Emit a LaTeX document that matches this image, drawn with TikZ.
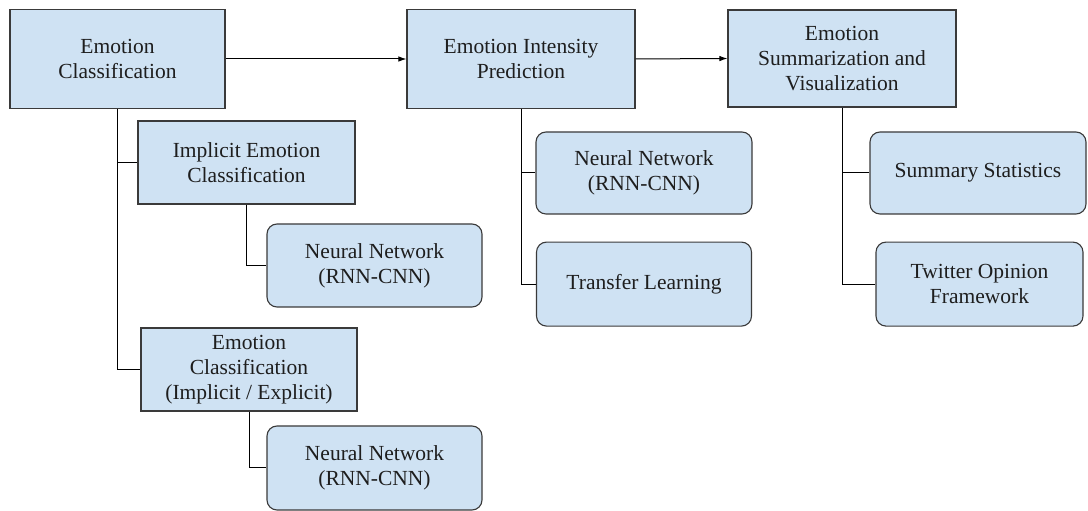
\documentclass[tikz,border=0pt]{standalone}
\usepackage{fontspec}
\setmainfont{Liberation Serif}
\usetikzlibrary{arrows.meta, positioning}
\definecolor{boxBlue}{HTML}{CFE2F3}
\definecolor{lineDark}{HTML}{3A3A3A}
\definecolor{textDark}{HTML}{1E1E1E}

\begin{document}
\begin{tikzpicture}[x=1pt, y=1pt,
stage/.style={rectangle, draw=lineDark, fill=boxBlue, line width=1.1pt,
inner sep=0pt, minimum width=216pt, minimum height=83pt, align=center,
text=textDark, font=\fontsize{21.5}{25}\selectfont},
top/.style={stage, minimum height=99pt},
method/.style={stage, rounded corners=10pt},
link/.style={line width=1pt, draw=black},
arrow/.style={link, -{Latex[length=8pt,width=5.5pt]}}]
\useasboundingbox (0,0) rectangle (1088,511);
\node[top, minimum width=215pt] (cls) at (117.5,452)
    {Emotion\\Classification};
\node[top, minimum width=228pt] (intensity) at (521,452)
    {Emotion Intensity\\Prediction};
\node[top, minimum width=228pt, minimum height=97pt] (summ) at (842,452.5)
    {Emotion\\Summarization and\\Visualization};
\node[stage, minimum width=217pt] (implicit) at (246.5,348.5)
    {Implicit Emotion\\Classification};
\node[method, minimum width=215pt] (nnA) at (374.5,245.5)
    {Neural Network\\(RNN-CNN)};
\node[stage] (both) at (249,141.5)
    {Emotion\\Classification\\(Implicit / Explicit)};
\node[method, minimum width=215pt, minimum height=84pt] (nnB) at (374.5,43)
    {Neural Network\\(RNN-CNN)};
\node[method, minimum height=82pt] (nnC) at (644,338)
    {Neural Network\\(RNN-CNN)};
\node[method, minimum width=215pt, minimum height=84pt, below=27pt of nnC] (transfer)
    {Transfer Learning};
\node[method, minimum height=82pt] (stats) at (978,338)
    {Summary Statistics};
\node[method, minimum width=207pt, minimum height=84pt, below=27pt of stats, xshift=1.5pt] (twitter)
    {Twitter Opinion\\Framework};
\draw[arrow] (cls.east) -- (intensity.west);
\draw[arrow] (intensity.east) -- (summ.west);
\draw[link] (cls.south) |- (implicit.west);
\draw[link] (cls.south) |- (both.west);
\draw[link] (implicit.south) |- (nnA.west);
\draw[link] (both.south) |- (nnB.west);
\draw[link] (intensity.south) |- (nnC.west);
\draw[link] (intensity.south) |- (transfer.west);
\draw[link] (summ.south) |- (stats.west);
\draw[link] (summ.south) |- (twitter.west);
\end{tikzpicture}
\end{document}
